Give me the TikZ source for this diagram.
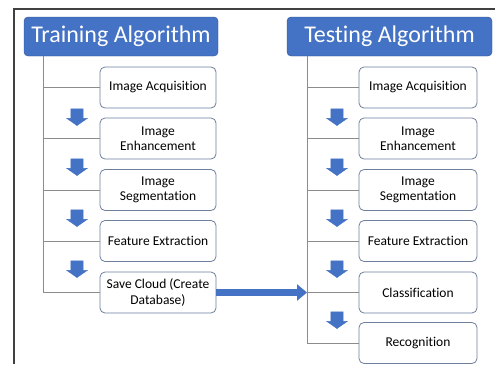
\documentclass[tikz,border=0pt]{standalone}
\usepackage{fontspec}
\setmainfont{Carlito}[Ligatures=NoCommon]
\usepackage{xcolor}
\usetikzlibrary{shapes.arrows, arrows.meta, positioning}

\definecolor{hdrblue}{HTML}{4472C4}
\definecolor{hdredge}{HTML}{2F528F}
\definecolor{boxedge}{HTML}{6E7F9E}
\definecolor{treegray}{HTML}{8C8C8C}

\tikzset{
  header/.style={rectangle, rounded corners=4pt, draw=hdredge, fill=hdrblue,
    text=white, font=\fontsize{24}{28}\selectfont, minimum height=39pt, inner sep=0pt},
  stepbox/.style={rectangle, rounded corners=5pt, draw=boxedge, line width=0.8pt, fill=white,
    font=\fontsize{13.5}{15.5}\selectfont, align=center, minimum height=41pt, inner sep=0pt},
  dnarrow/.style={single arrow, draw=hdrblue, fill=hdrblue, rotate=-90,
    minimum height=13pt, minimum width=20pt, inner sep=6pt, single arrow head extend=4pt,
    single arrow tip angle=110},
  tree/.style={treegray, line width=0.8pt}
}

\begin{document}
\begin{tikzpicture}[x=1pt, y=-1pt]
  \useasboundingbox (0,0) rectangle (495,364);
  \draw[line width=1.8pt, black!75] (14,364) -- (14,9) -- (495,9);

  % training side
  \node[header, minimum width=194pt] (train) at (121,36.5) {Training Algorithm};
  \node[stepbox, minimum width=116pt] (tacq) at (158,87.5) {Image Acquisition};
  \node[stepbox, minimum width=116pt] (tenh) at (158,138.5) {Image\\Enhancement};
  \node[stepbox, minimum width=116pt] (tseg) at (158,190) {Image\\Segmentation};
  \node[stepbox, minimum width=116pt] (tfeat) at (158,241) {Feature Extraction};
  \node[stepbox, minimum width=116pt] (tsave) at (158,292.5) {Save Cloud (Create\\Database)};
  \coordinate (ttop) at (43,56);
  \coordinate (tbot) at (43,292.5);
  \draw[tree] (ttop) -- (tbot) -- (tsave.west);
  \draw[tree] (tacq.west) -- (tacq.west -| ttop);
  \draw[tree] (tenh.west) -- (tenh.west -| ttop);
  \draw[tree] (tseg.west) -- (tseg.west -| ttop);
  \draw[tree] (tfeat.west) -- (tfeat.west -| ttop);
  \node[dnarrow] (ta1) at (77,115) {};
  \node[dnarrow] (ta2) at (77,165) {};
  \node[dnarrow] (ta3) at (77,216) {};
  \node[dnarrow] (ta4) at (77,267) {};

  % testing side
  \node[header, minimum width=205pt] (test) at (389.5,36.5) {Testing Algorithm};
  \node[stepbox, minimum width=118pt] (sacq) at (418,87.5) {Image Acquisition};
  \node[stepbox, minimum width=118pt] (senh) at (418,138.5) {Image\\Enhancement};
  \node[stepbox, minimum width=118pt] (sseg) at (418,190) {Image\\Segmentation};
  \node[stepbox, minimum width=118pt] (sfeat) at (418,241) {Feature Extraction};
  \node[stepbox, minimum width=118pt] (sclass) at (418,292.5) {Classification};
  \node[stepbox, minimum width=118pt] (srec) at (418,343) {Recognition};
  \coordinate (stop) at (307,56);
  \coordinate (sbot) at (307,343);
  \draw[tree] (stop) -- (sbot) -- (srec.west);
  \draw[tree] (sacq.west) -- (sacq.west -| stop);
  \draw[tree] (senh.west) -- (senh.west -| stop);
  \draw[tree] (sseg.west) -- (sseg.west -| stop);
  \draw[tree] (sfeat.west) -- (sfeat.west -| stop);
  \draw[tree] (sclass.west) -- (sclass.west -| stop);
  \node[dnarrow] (sa1) at (337,115) {};
  \node[dnarrow] (sa2) at (337,165) {};
  \node[dnarrow] (sa3) at (337,216) {};
  \node[dnarrow] (sa4) at (337,267) {};
  \node[dnarrow] (sa5) at (337,318) {};

  % link between the two
  \coordinate (join) at (307,292.5);
  \draw[hdrblue, line width=7pt, -{Triangle[width=16pt, length=10pt]}] (tsave.east) -- (join);
\end{tikzpicture}
\end{document}
